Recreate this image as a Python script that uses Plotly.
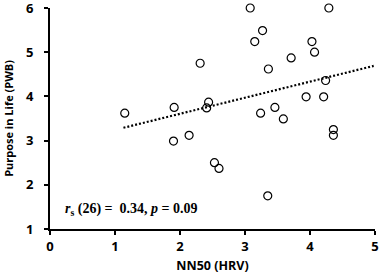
import plotly.graph_objects as go

nn50 = [1.15, 1.91, 2.44, 2.41, 2.14, 1.90, 2.53, 2.60, 3.08, 4.29, 3.27, 3.15, 4.03,
        4.07, 3.71, 3.36, 4.24, 3.94, 4.21, 3.24, 3.46, 3.59, 4.36, 4.36, 3.35, 2.31]
pwb = [3.62, 3.75, 3.87, 3.74, 3.12, 2.99, 2.50, 2.37, 6.00, 6.00, 5.49, 5.24, 5.24,
       5.00, 4.87, 4.62, 4.36, 3.99, 3.99, 3.62, 3.75, 3.49, 3.25, 3.12, 1.75, 4.75]
trend_x = [1.13, 4.98]
trend_y = [3.29, 4.69]
x_ticks = [0, 1, 2, 3, 4, 5]
y_ticks = [1, 2, 3, 4, 5, 6]

fig = go.Figure()
fig.add_trace(go.Scatter(x=trend_x, y=trend_y, mode="lines",
                         line=dict(color="black", width=2.2, dash="2px,2px"),
                         hoverinfo="skip", showlegend=False))
fig.add_trace(go.Scatter(x=nn50, y=pwb, mode="markers", cliponaxis=False,
                         marker=dict(symbol="circle-open", size=8, color="black",
                                     line=dict(width=1.2, color="black")),
                         showlegend=False))

fig.add_annotation(x=0.2, y=1.43, xref="x", yref="y", xanchor="left", yanchor="middle",
                   showarrow=False,
                   text="<b><i>r</i><sub>s</sub> (26) =&nbsp; 0.34, <i>p</i> = 0.09</b>",
                   font=dict(family="Liberation Serif", size=14, color="black"))

axis_font = dict(family="Open Sans", size=13, color="black", weight="bold")
fig.update_layout(
    width=380, height=277,
    margin=dict(l=50, r=4.7, t=8, b=48.2, autoexpand=False),
    paper_bgcolor="white", plot_bgcolor="white",
    xaxis=dict(range=[0, 5], tickvals=x_ticks, showline=True, linecolor="black",
               linewidth=2, ticks="outside", ticklen=4, tickwidth=2, tickcolor="black",
               showgrid=False, zeroline=False, tickfont=axis_font, automargin=False,
               ticklabeloverflow="allow",
               title=dict(text="NN50 (HRV)", standoff=8,
                          font=dict(family="Open Sans", size=12.5, color="black", weight="bold"))),
    yaxis=dict(range=[1, 6], tickvals=y_ticks, showline=True, linecolor="black",
               linewidth=2, ticks="outside", ticklen=4, tickwidth=2, tickcolor="black",
               showgrid=False, zeroline=False, tickfont=axis_font, automargin=False,
               ticklabelstandoff=8, ticklabeloverflow="allow",
               title=dict(text="Purpose in Life (PWB)", standoff=10,
                          font=dict(family="Open Sans", size=11, color="black", weight="bold"))),
)

fig.write_html("out.html", config={"displayModeBar": False},
               post_script="document.body.style.margin='0';")
